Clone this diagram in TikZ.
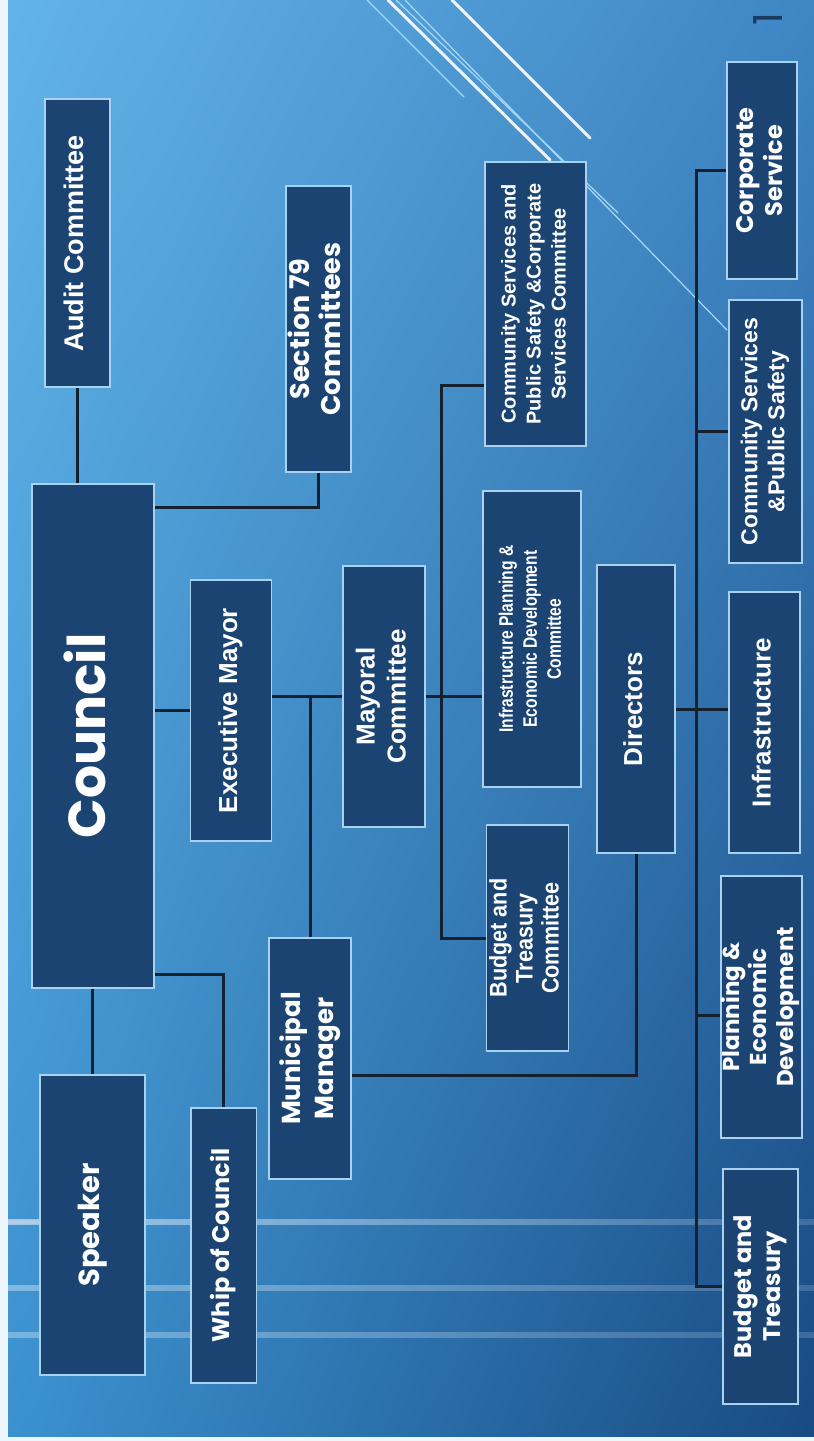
\documentclass[tikz,border=0pt]{standalone}
\usepackage{fontspec}
\setmainfont{Liberation Sans}
\newfontfamily\cgfont{Poppins}
\usepackage{graphicx}
\usetikzlibrary{calc,shadings,fadings}
\pgfdeclarelayer{bg}
\pgfdeclarelayer{lines}
\pgfsetlayers{bg,lines,main}
\definecolor{boxfill}{HTML}{1B4473}
\definecolor{boxline}{HTML}{A9D2F0}
\definecolor{conn}{HTML}{16212F}
\definecolor{bgUL}{HTML}{63B4E8}
\definecolor{bgUR}{HTML}{3F86C4}
\definecolor{bgLL}{HTML}{3B92D0}
\definecolor{bgLR}{HTML}{184A82}
\definecolor{streakc}{HTML}{DCEBF8}
\definecolor{streakp}{HTML}{E8D6E0}
\definecolor{thinln}{HTML}{A8D8F6}
\definecolor{pgnum}{HTML}{1B3A60}
\newcommand\rtxt[4][1]{\rotatebox{90}{\scalebox{#1}[1]{\fontsize{#2}{#3}\selectfont\begin{tabular}{@{}c@{}}#4\end{tabular}}}}
\tikzset{
  orgbox/.style={draw=boxline, fill=boxfill, line width=1.3pt, inner sep=0pt, text=white, font=\bfseries},
  cgbox/.style={orgbox, font=\cgfont\bfseries},
  link/.style={draw=conn, line width=3pt},
  streak/.style={fill=streakc, path fading=east},
  streakflat/.style={fill=streakc, opacity=0.18},
  thickdiag/.style={draw=white, line width=3pt, opacity=0.9, line cap=round},
  thindiag/.style={draw=thinln, line width=1.2pt}
}
\begin{document}
\begin{tikzpicture}[x=1pt,y=-1pt]
\useasboundingbox (0,0) rectangle (814,1441);
\begin{pgfonlayer}{bg}
\shade[upper left=bgUL, upper right=bgUR, lower left=bgLL, lower right=bgLR] (0,0) rectangle (814,1441);
\fill[white!88!bgUL] (0,0) rectangle (8,1441);
\fill[white!88!bgUL] (0,1437) rectangle (814,1441);
\fill[streak, opacity=0.5] (8,1219) rectangle (814,1225);
\fill[streakflat] (8,1219) rectangle (814,1225);
\fill[streakp, opacity=0.35] (8,1220) rectangle (45,1224);
\fill[streak, opacity=0.3] (8,1285) rectangle (814,1291);
\fill[streakflat] (8,1285) rectangle (814,1291);
\fill[streak, opacity=0.25] (8,1332) rectangle (814,1338);
\fill[streakflat] (8,1332) rectangle (814,1338);
\draw[thindiag] (367,0) -- (464,97);
\draw[thickdiag] (388,0) -- (550,160);
\draw[thindiag] (396,0) -- (618,213);
\draw[thindiag] (405,0) -- (727,330);
\draw[thickdiag] (452,0) -- (590,138);
\end{pgfonlayer}

\node[text=pgnum, font=\cgfont\fontsize{40}{40}\selectfont, rotate=90] (pg) at (768,19) {1};

% boxes
\node[orgbox, minimum width=65pt, minimum height=288pt] (audit) at (77.5,243) {\rtxt{27}{31}{Audit Committee}};
\node[cgbox, minimum width=65pt, minimum height=286pt] (sec79) at (318.5,329) {\rtxt{27}{31}{Section 79\\Committees}};
\node[orgbox, minimum width=101pt, minimum height=284pt] (csc) at (535.5,304) {\rtxt{20}{25}{Community Services and\\Public Safety \&Corporate\\Services Committee}};
\node[cgbox, minimum width=70pt, minimum height=217pt] (cs) at (762,170.5) {\rtxt{24}{29}{Corporate\\Service}};
\node[orgbox, minimum width=73pt, minimum height=263pt] (csps) at (765.5,431.5) {\rtxt{23}{27}{Community Services\\\&Public Safety}};
\node[cgbox, minimum width=122pt, minimum height=504pt] (council) at (93,736) {\rtxt{52}{60}{Council}};
\node[orgbox, minimum width=81pt, minimum height=261pt] (em) at (231,710.5) {\rtxt{26}{30}{Executive Mayor}};
\node[orgbox, minimum width=82pt, minimum height=261pt] (mc) at (384,696.5) {\rtxt{26}{31}{Mayoral\\Committee}};
\node[orgbox, minimum width=98pt, minimum height=296pt] (ipc) at (532,639) {\rtxt[0.8]{19.5}{24}{Infrastructure Planning \&\\Economic Development\\Committee}};
\node[orgbox, minimum width=78pt, minimum height=288pt] (dir) at (636,709) {\rtxt{26}{30}{Directors}};
\node[orgbox, minimum width=71pt, minimum height=261pt] (infra) at (764.5,722.5) {\rtxt{26}{30}{Infrastructure}};
\node[orgbox, minimum width=82pt, minimum height=226pt] (btc) at (527.5,938) {\rtxt[0.9]{24}{26}{Budget and\\Treasury\\Committee}};
\node[cgbox, minimum width=77pt, minimum height=262pt] (ped) at (761.5,1007) {\rtxt{23}{27}{Planning \&\\Economic\\Development}};
\node[cgbox, minimum width=82pt, minimum height=241pt] (mm) at (310,1058.5) {\rtxt{26}{33}{Municipal\\Manager}};
\node[cgbox, minimum width=105pt, minimum height=300pt] (speaker) at (92.5,1225) {\rtxt{29}{34}{Speaker}};
\node[cgbox, minimum width=65.5pt, minimum height=275pt] (whip) at (223.75,1245.5) {\rtxt{24}{29}{Whip of Council}};
\node[cgbox, minimum width=75pt, minimum height=235pt] (bt) at (760.5,1286.5) {\rtxt{24}{29}{Budget and\\Treasury}};

% junction coordinates
\coordinate (j79) at (0,507);
\coordinate (jw) at (0,974);
\coordinate (jm) at (0,1075);
\coordinate (cbtop) at (441,385);
\coordinate (db) at (696,0);

\begin{pgfonlayer}{lines}
\draw[link] (audit.south) -- (audit.south |- council.north);
\draw[link] (council.east |- j79) -| (sec79.south);
\draw[link] (council.east |- em.west) -- (em.west);
\draw[link] (em.east |- mc.west) -- (mc.west);
\draw[link] (mm.north |- mc.west) -- (mm.north);
\draw[link] (mc.east) -- (ipc.west |- mc.east);
\draw[link] (csc.west |- cbtop) -- (cbtop) |- (btc.west);
\draw[link] (dir.east) -- (infra.west |- dir.east);
\draw[link] (cs.west) -- (cs.west -| db) |- (bt.west);
\draw[link] (csps.west -| db) -- (csps.west);
\draw[link] ($(ped.west -| db)+(0,8)$) -- ($(ped.west)+(0,8)$);
\draw[link] (mm.east |- jm) -| (dir.south);
\draw[link] (speaker.north |- council.south) -- (speaker.north);
\draw[link] (council.east |- jw) -| (whip.north);
\end{pgfonlayer}
\end{tikzpicture}
\end{document}
